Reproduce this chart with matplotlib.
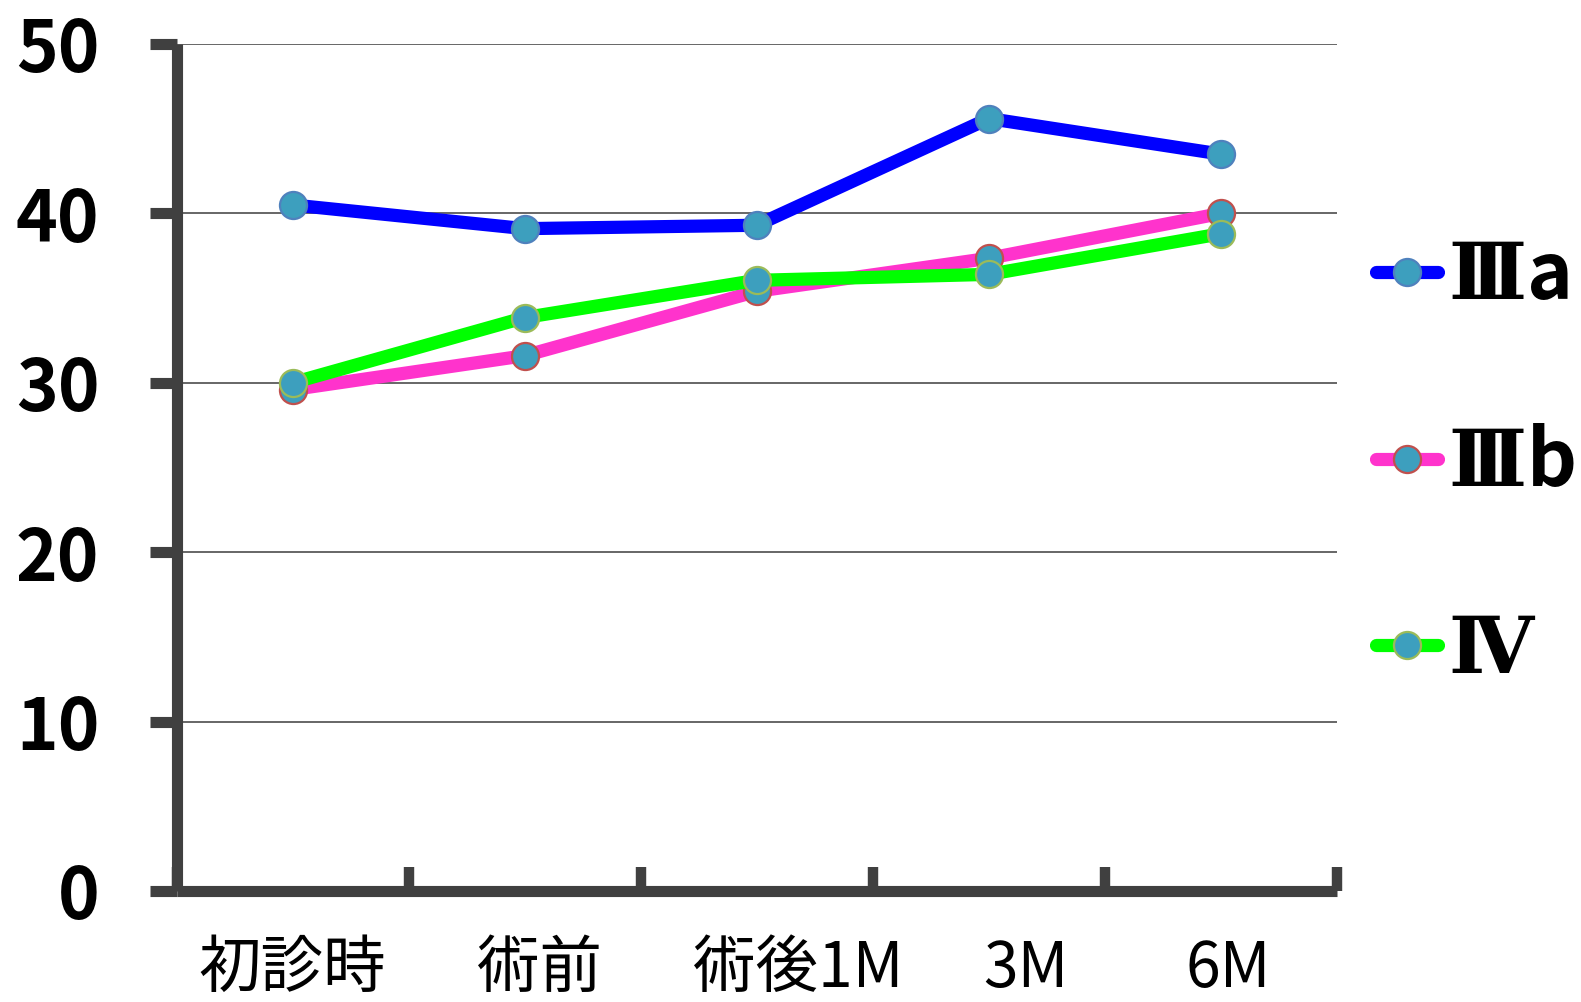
import matplotlib
matplotlib.use("Agg")
import matplotlib.pyplot as plt
import matplotlib.transforms as mtransforms

categories = ["初診時", "術前", "術後1M", "3M", "6M"]
series_names = [r"$\mathbf{Ⅲ}$a", r"$\mathbf{Ⅲ}$b", r"$\mathbf{Ⅳ}$"]
values_3a = [40.5, 39.1, 39.3, 45.6, 43.5]
values_3b = [29.6, 31.6, 35.4, 37.35, 40.0]
values_4 = [30.0, 33.85, 36.05, 36.4, 38.8]
y_ticks = [0, 10, 20, 30, 40, 50]

line_colors = ["#0000FF", "#FF33CC", "#00FF00"]
edge_colors = ["#4F81BD", "#C0504D", "#9BBB59"]
marker_face = "#3D9FBE"
axis_color = "#404040"

plt.rcParams['font.family'] = ['Noto Sans CJK JP', 'DejaVu Sans']
plt.rcParams['mathtext.fontset'] = 'custom'
plt.rcParams['mathtext.bf'] = 'DejaVu Serif:bold'
plt.rcParams['mathtext.rm'] = 'DejaVu Serif'

W, H = 1581, 1002
fig = plt.figure(figsize=(W / 100, H / 100), dpi=100)
x0, x1, ytop, ybot = 176.5, 1337, 44, 891
ax = fig.add_axes([x0 / W, 1 - ybot / H, (x1 - x0) / W, (ybot - ytop) / H])

xs = list(range(len(categories)))
handles = []
for vals, lc, ec in zip([values_3a, values_3b, values_4], line_colors, edge_colors):
    ln, = ax.plot(xs, vals, color=lc, lw=9.5, marker='o', markersize=19.5,
                  markerfacecolor=marker_face, markeredgecolor=ec, markeredgewidth=1.6,
                  solid_capstyle='round', solid_joinstyle='round', clip_on=False, zorder=3)
    handles.append(ln)

ax.set_xlim(-0.5, len(categories) - 0.5)
ax.set_ylim(0, 50)
ax.set_yticks(y_ticks)
ax.set_yticklabels([str(v) for v in y_ticks], fontsize=51, fontweight='bold')
ax.yaxis.grid(True, color='#5A5A5A', lw=1.3, zorder=0)
ax.set_axisbelow(True)

ax.set_xticks([i - 0.5 for i in range(len(categories) + 1)])
ax.set_xticklabels([])
ax.set_xticks(xs, minor=True)
ax.set_xticklabels(categories, minor=True, fontsize=45)
ax.tick_params(axis='x', which='major', direction='in', length=17, width=7.5, color=axis_color)
ax.tick_params(axis='x', which='minor', length=0, pad=33)
ax.tick_params(axis='y', direction='out', length=19.5, width=8, color=axis_color, pad=36)

for s in ['top', 'right']:
    ax.spines[s].set_visible(False)
for s in ['left', 'bottom']:
    ax.spines[s].set_color(axis_color)
    ax.spines[s].set_linewidth(8)
    ax.spines[s].set_capstyle('butt')

offsets_px = [0, 15, 42, 37, 7]
for lab, off in zip(ax.get_xticklabels(minor=True), offsets_px):
    lab.set_transform(lab.get_transform() + mtransforms.ScaledTranslation(off / 100, 0, fig.dpi_scale_trans))

leg = ax.legend(handles, series_names, loc='center left', bbox_to_anchor=(1376 / W, 1 - 463 / H),
                bbox_transform=fig.transFigure, frameon=False, prop={'size': 56, 'weight': 'bold'},
                handlelength=0.8, handletextpad=0.12, labelspacing=1.38, borderaxespad=0, borderpad=0)

fig.savefig("out.png", dpi=100)
